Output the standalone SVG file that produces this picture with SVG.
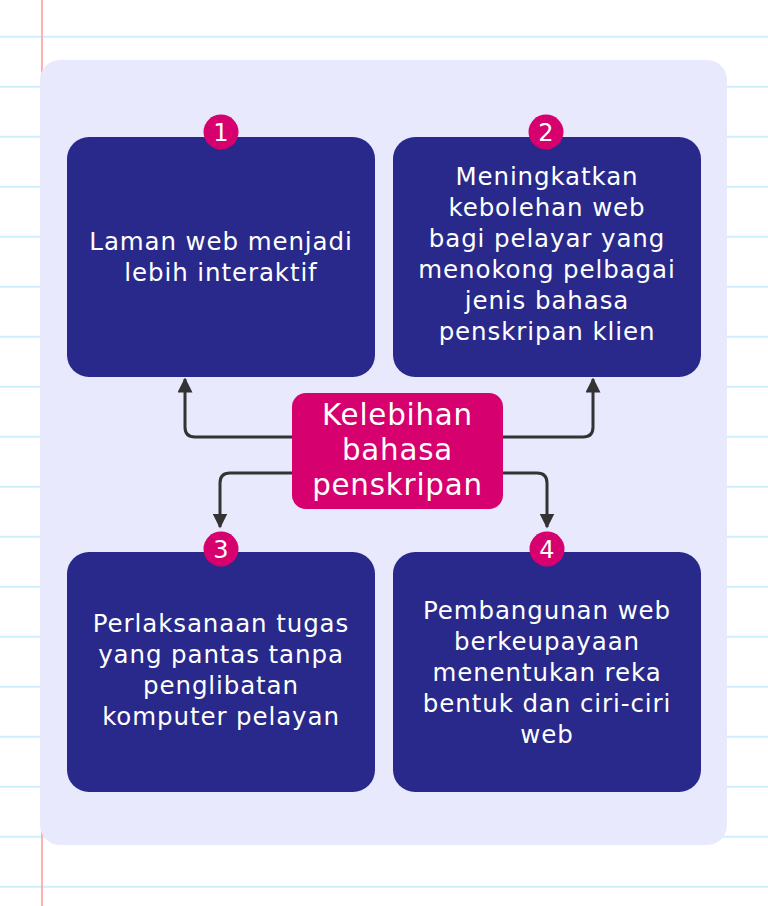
<svg xmlns="http://www.w3.org/2000/svg" width="768" height="906" viewBox="0 0 768 906">
<defs>
<style>
.rule{stroke:#CBEFFD;stroke-width:2}
.box{fill:#28298A}
.badge{fill:#D6006E}
.bt{font-family:"DejaVu Sans","Liberation Sans",sans-serif;font-size:24px;fill:#fff;text-anchor:middle}
.t{font-family:"DejaVu Sans","Liberation Sans",sans-serif;font-size:24.5px;letter-spacing:0.9px;fill:#fff;text-anchor:middle}
.ct{font-family:"DejaVu Sans","Liberation Sans",sans-serif;font-size:29.3px;letter-spacing:0.8px;fill:#fff;text-anchor:middle}
.conn{fill:none;stroke:#333;stroke-width:3;stroke-linejoin:round}
</style>
<marker id="ah" viewBox="0 0 10 10" refX="9" refY="5" markerWidth="5" markerHeight="5" markerUnits="strokeWidth" orient="auto">
<path d="M0,0 L10,5 L0,10 Z" fill="#333"/>
</marker>
</defs>
<rect width="768" height="906" fill="#fff"/>
<g id="paper">
<line class="rule" x1="0" y1="36.7" x2="768" y2="36.7"/>
<line class="rule" x1="0" y1="86.7" x2="768" y2="86.7"/>
<line class="rule" x1="0" y1="136.7" x2="768" y2="136.7"/>
<line class="rule" x1="0" y1="186.7" x2="768" y2="186.7"/>
<line class="rule" x1="0" y1="236.7" x2="768" y2="236.7"/>
<line class="rule" x1="0" y1="286.7" x2="768" y2="286.7"/>
<line class="rule" x1="0" y1="336.7" x2="768" y2="336.7"/>
<line class="rule" x1="0" y1="386.7" x2="768" y2="386.7"/>
<line class="rule" x1="0" y1="436.7" x2="768" y2="436.7"/>
<line class="rule" x1="0" y1="486.7" x2="768" y2="486.7"/>
<line class="rule" x1="0" y1="536.7" x2="768" y2="536.7"/>
<line class="rule" x1="0" y1="586.7" x2="768" y2="586.7"/>
<line class="rule" x1="0" y1="636.7" x2="768" y2="636.7"/>
<line class="rule" x1="0" y1="686.7" x2="768" y2="686.7"/>
<line class="rule" x1="0" y1="736.7" x2="768" y2="736.7"/>
<line class="rule" x1="0" y1="786.7" x2="768" y2="786.7"/>
<line class="rule" x1="0" y1="836.7" x2="768" y2="836.7"/>
<line class="rule" x1="0" y1="886.7" x2="768" y2="886.7"/>
<line x1="42" y1="0" x2="42" y2="906" stroke="#FFB0B0" stroke-width="2"/>
<rect x="40" y="60" width="687" height="785" rx="20" fill="#E9E9FD"/>
</g>
<g id="connectors">
<path class="conn" d="M292,437 H195 Q185,437 185,427 V379" marker-end="url(#ah)"/>
<path class="conn" d="M503,437 H583 Q593,437 593,427 V379" marker-end="url(#ah)"/>
<path class="conn" d="M292,473 H230 Q220,473 220,483 V527" marker-end="url(#ah)"/>
<path class="conn" d="M503,473 H537 Q547,473 547,483 V527" marker-end="url(#ah)"/>
</g>
<g id="node1">
<rect class="box" x="67" y="137" width="308" height="240" rx="22"/>
<circle class="badge" cx="221" cy="132" r="17.5"/>
<text class="bt" x="221" y="141">1</text>
<text class="t" x="221" y="250">Laman web menjadi</text>
<text class="t" x="221" y="281">lebih interaktif</text>
</g>
<g id="node2">
<rect class="box" x="393" y="137" width="308" height="240" rx="22"/>
<circle class="badge" cx="546" cy="132" r="17.5"/>
<text class="bt" x="546" y="141">2</text>
<text class="t" x="547" y="185">Meningkatkan</text>
<text class="t" x="547" y="216">kebolehan web</text>
<text class="t" x="547" y="247">bagi pelayar yang</text>
<text class="t" x="547" y="278">menokong pelbagai</text>
<text class="t" x="547" y="309">jenis bahasa</text>
<text class="t" x="547" y="340">penskripan klien</text>
</g>
<g id="node3">
<rect class="box" x="67" y="552" width="308" height="240" rx="22"/>
<circle class="badge" cx="221" cy="549" r="17.5"/>
<text class="bt" x="221" y="558">3</text>
<text class="t" x="221" y="632">Perlaksanaan tugas</text>
<text class="t" x="221" y="663">yang pantas tanpa</text>
<text class="t" x="221" y="694">penglibatan</text>
<text class="t" x="221" y="725">komputer pelayan</text>
</g>
<g id="node4">
<rect class="box" x="393" y="552" width="308" height="240" rx="22"/>
<circle class="badge" cx="547" cy="549" r="17.5"/>
<text class="bt" x="547" y="558">4</text>
<text class="t" x="547" y="619">Pembangunan web</text>
<text class="t" x="547" y="650">berkeupayaan</text>
<text class="t" x="547" y="681">menentukan reka</text>
<text class="t" x="547" y="712">bentuk dan ciri-ciri</text>
<text class="t" x="547" y="743">web</text>
</g>
<g id="center">
<rect x="292" y="393" width="211" height="116" rx="14" fill="#D6006E"/>
<text class="ct" x="397.5" y="425">Kelebihan</text>
<text class="ct" x="397.5" y="460">bahasa</text>
<text class="ct" x="397.5" y="495">penskripan</text>
</g>
</svg>
